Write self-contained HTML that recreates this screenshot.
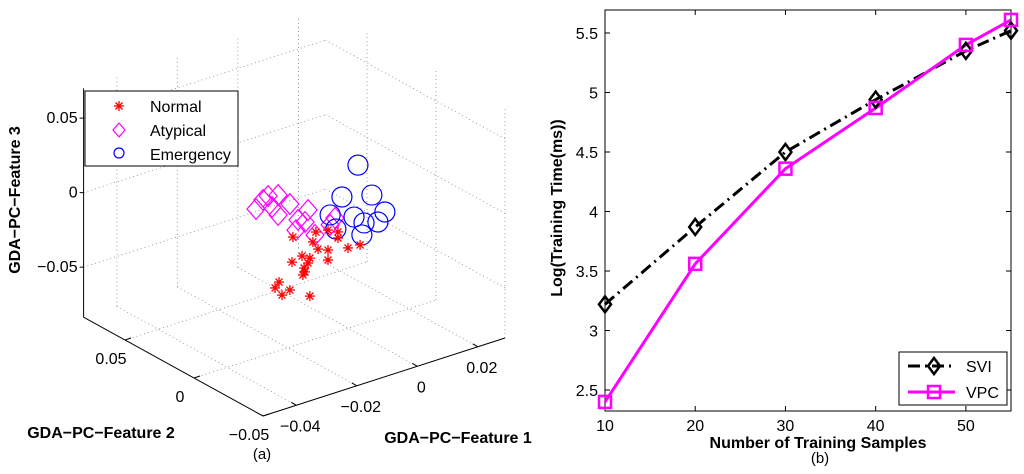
<!DOCTYPE html>
<html><head><meta charset="utf-8">
<style>
html,body{margin:0;padding:0;background:#fff;}
svg{display:block;font-family:"Liberation Sans",Arial,sans-serif;}
</style></head>
<body>
<svg id="fig" width="1024" height="474" viewBox="0 0 1024 474" xmlns="http://www.w3.org/2000/svg">
<g id="left"></g>
<g id="right"></g>
</svg>
<script>
// ---- 3D scatter data ----
const normalF1=[-0.0183,-0.0107,-0.0117,-0.0067,-0.0034,-0.010,-0.0001,0.0039,-0.0067,-0.0067,-0.0186,-0.0153,-0.0127,-0.0146,-0.0133,-0.015,-0.0127,-0.0242,-0.0229,-0.0219,-0.0193,-0.0034,-0.0143];
const normalZ=[-0.0104,-0.012,-0.018,-0.0133,-0.0167,-0.0239,-0.0296,-0.0302,-0.0334,-0.0267,-0.027,-0.0251,-0.0282,-0.0336,-0.0311,-0.038,-0.0537,-0.0407,-0.0376,-0.047,-0.0453,-0.0208,-0.0364];
const atypF1=[-0.0305,-0.0265,-0.0282,-0.0232,-0.0252,-0.0193,-0.0232,-0.0166,-0.0133,-0.0173,-0.0143,-0.011,-0.006,-0.0044];
const atypZ=[0.0164,0.0225,0.021,0.021,0.0143,0.0124,0.0076,0.0,0.0045,-0.0064,-0.0029,-0.0138,-0.0103,-0.0067];
const emerF1=[0.0032,-0.0021,0.0078,-0.006,0.0019,0.0121,-0.0041,0.0052,0.0098,0.0045];
const emerZ=[0.0238,0.0059,0.0007,-0.0036,-0.0102,-0.0135,-0.0143,-0.0163,-0.0187,-0.0239];
const f1Ticks=[-0.04,-0.02,0,0.02];
const f1Labels=["\u22120.04","\u22120.02","0","0.02"];
const f2Ticks=[0.05,0,-0.05];
const f2Labels=["0.05","0","\u22120.05"];
const zTicks=[0.05,0,-0.05];
const zLabels=["0.05","0","\u22120.05"];
// ---- line chart data ----
const samples=[10,20,30,40,50,55];
const sviVals=[3.22,3.87,4.50,4.94,5.35,5.52];
const vpcVals=[2.40,3.56,4.36,4.87,5.40,5.61];
const xTicks=[10,20,30,40,50];
const yTicks=[2.5,3,3.5,4,4.5,5,5.5];
const yTickLabels=["2.5","3","3.5","4","4.5","5","5.5"];

const NS="http://www.w3.org/2000/svg";
function mk(parent,tag,attrs,text){const e=document.createElementNS(NS,tag);for(const k in attrs)e.setAttribute(k,attrs[k]);if(text!==undefined)e.textContent=text;parent.appendChild(e);return e;}

// ---- 3D projection ----
const F1MIN=-0.051,F1MAX=0.029,F2MIN=-0.05,F2MAX=0.08,ZMIN=-0.0836,ZMAX=0.07;
function P(f1,f2,z){return [194+(f1-F1MIN)*3025-f2*1380, 378-(f1-F1MIN)*975-f2*760-(z-ZMIN)*1490];}
const L=document.getElementById('left');
function dline(a,b,name){const l=mk(L,'line',{x1:a[0],y1:a[1],x2:b[0],y2:b[1],stroke:'#888','stroke-width':0.8,'stroke-dasharray':'1,3'});

}
f1Ticks.forEach(t=>dline(P(t,F2MIN,ZMIN),P(t,F2MAX,ZMIN),'floor-grid-f1'));
f2Ticks.forEach(t=>dline(P(F1MIN,t,ZMIN),P(F1MAX,t,ZMIN),'floor-grid-f2'));
f1Ticks.forEach(t=>dline(P(t,F2MAX,ZMIN),P(t,F2MAX,ZMAX),'wall-grid-f1'));
zTicks.forEach(t=>dline(P(F1MIN,F2MAX,t),P(F1MAX,F2MAX,t),'wall-grid-z'));
f2Ticks.forEach(t=>dline(P(F1MAX,t,ZMIN),P(F1MAX,t,ZMAX),'wall-grid-f2'));
zTicks.forEach(t=>dline(P(F1MAX,F2MIN,t),P(F1MAX,F2MAX,t),'wall-grid-z2'));
function sline(a,b,name){const l=mk(L,'line',{x1:a[0],y1:a[1],x2:b[0],y2:b[1],stroke:'#000','stroke-width':1});

}
sline(P(F1MIN,F2MIN,ZMIN),P(F1MAX,F2MIN,ZMIN),'x-axis-feature1');
sline(P(F1MIN,F2MIN,ZMIN),P(F1MIN,F2MAX,ZMIN),'y-axis-feature2');
sline(P(F1MIN,F2MAX,ZMIN),P(F1MIN,F2MAX,ZMAX),'z-axis-feature3');
const tstyle={'font-size':16,fill:'#000'};
f1Ticks.forEach((t,i)=>{const p=P(t,F2MIN,ZMIN);sline(p,[p[0]-5,p[1]-3],'f1-tick');
const tx=mk(L,'text',Object.assign({x:p[0]+4,y:p[1]+26,'text-anchor':'middle'},tstyle),f1Labels[i]);

});
f2Ticks.forEach((t,i)=>{const p=P(F1MIN,t,ZMIN);sline(p,[p[0]+6,p[1]-2],'f2-tick');
const tx=mk(L,'text',Object.assign({x:p[0]-14,y:p[1]+24,'text-anchor':'middle'},tstyle),f2Labels[i]);

});
zTicks.forEach((t,i)=>{const p=P(F1MIN,F2MAX,t);sline(p,[p[0]-4,p[1]],'z-tick');
const tx=mk(L,'text',Object.assign({x:p[0]-6,y:p[1]+5,'text-anchor':'end'},tstyle),zLabels[i]);

});
function star(cx,cy,name){const g=mk(L,'g',{stroke:'#f00','stroke-width':1.3});


mk(g,'line',{x1:cx-5,y1:cy,x2:cx+5,y2:cy});mk(g,'line',{x1:cx,y1:cy-5,x2:cx,y2:cy+5});
mk(g,'line',{x1:cx-3.5,y1:cy-3.5,x2:cx+3.5,y2:cy+3.5});mk(g,'line',{x1:cx-3.5,y1:cy+3.5,x2:cx+3.5,y2:cy-3.5});}
function diamond(cx,cy,s,name){const d=mk(L,'path',{d:`M${cx},${cy-s*1.15}L${cx+s},${cy}L${cx},${cy+s*1.15}L${cx-s},${cy}Z`,fill:'none',stroke:'#f0f','stroke-width':1.2});

}
function circ(cx,cy,r,name){const c=mk(L,'circle',{cx:cx,cy:cy,r:r,fill:'none',stroke:'#00f','stroke-width':1.2});

}
atypF1.forEach((v,i)=>{const p=P(v,0,atypZ[i]);diamond(p[0],p[1],9,'atypical-point');});
emerF1.forEach((v,i)=>{const p=P(v,0,emerZ[i]);circ(p[0],p[1],10,'emergency-point');});
normalF1.forEach((v,i)=>{const p=P(v,0,normalZ[i]);star(p[0],p[1],'normal-point');});
const lg=mk(L,'g',{});


mk(lg,'rect',{x:85,y:91,width:153,height:75,fill:'#fff',stroke:'#000','stroke-width':1});
star(119,106,'legend-normal-marker');diamond(119,130,6,'legend-atypical-marker');circ(119,153,5,'legend-emergency-marker');
[['Normal',112],['Atypical',136],['Emergency',160]].forEach(a=>{const t=mk(lg,'text',{x:150,y:a[1],'font-size':16},a[0]);

});
function title(parent,x,y,txt,name,rot,size,bold){const t=mk(parent,'text',{x:x,y:y,'text-anchor':'middle','font-size':size||16,'font-weight':bold===false?'normal':'bold',transform:rot?`rotate(-90 ${x} ${y})`:''},txt);

}
title(L,20,200,'GDA\u2212PC\u2212Feature 3','z-axis-title',true);
title(L,101,438,'GDA\u2212PC\u2212Feature 2','y-axis-title');
title(L,458,443,'GDA\u2212PC\u2212Feature 1','x-axis-title');
title(L,262,459,'(a)','caption-a',false,15,false);

// ---- right line chart ----
const R=document.getElementById('right');
const X0=605,X1=1011,YT=10,YB=411;
function sx(v){return X0+(v-10)*(X1-X0)/45;}
function sy(v){return 33+(5.5-v)*119;}
const frame=mk(R,'rect',{x:X0,y:YT,width:X1-X0,height:YB-YT,fill:'none',stroke:'#000','stroke-width':1});


xTicks.forEach(t=>{const x=sx(t);mk(R,'line',{x1:x,y1:YB,x2:x,y2:YB-5,stroke:'#000'});mk(R,'line',{x1:x,y1:YT,x2:x,y2:YT+5,stroke:'#000'});
const tx=mk(R,'text',{x:x,y:431,'text-anchor':'middle','font-size':16},String(t));

});
yTicks.forEach((t,i)=>{const y=sy(t);mk(R,'line',{x1:X0,y1:y,x2:X0+5,y2:y,stroke:'#000'});mk(R,'line',{x1:X1,y1:y,x2:X1-5,y2:y,stroke:'#000'});
const tx=mk(R,'text',{x:598,y:y+6,'text-anchor':'end','font-size':16},yTickLabels[i]);

});
const sviLine=mk(R,'polyline',{points:samples.map((s,i)=>sx(s)+','+sy(sviVals[i])).join(' '),fill:'none',stroke:'#000','stroke-width':3,'stroke-dasharray':'12,5,2,5'});


const vpcLine=mk(R,'polyline',{points:samples.map((s,i)=>sx(s)+','+sy(vpcVals[i])).join(' '),fill:'none',stroke:'#f0f','stroke-width':3});


function rdiamond(cx,cy,name){const d=mk(R,'path',{d:`M${cx},${cy-8}L${cx+6},${cy}L${cx},${cy+8}L${cx-6},${cy}Z`,fill:'none',stroke:'#000','stroke-width':2.5});

}
function rsquare(cx,cy,name){const r=mk(R,'rect',{x:cx-6,y:cy-6,width:12,height:12,fill:'none',stroke:'#f0f','stroke-width':2.5});

}
samples.forEach((s,i)=>rdiamond(sx(s),sy(sviVals[i]),'svi-point'));
samples.forEach((s,i)=>rsquare(sx(s),sy(vpcVals[i]),'vpc-point'));
const rl=mk(R,'rect',{x:899,y:352,width:108,height:53,fill:'#fff',stroke:'#000','stroke-width':1});


mk(R,'line',{x1:908,y1:366,x2:955,y2:366,stroke:'#000','stroke-width':3,'stroke-dasharray':'12,5,2,5'});
rdiamond(934,366,'legend-svi-marker');
mk(R,'line',{x1:908,y1:392,x2:955,y2:392,stroke:'#f0f','stroke-width':3});
rsquare(934,392,'legend-vpc-marker');
[['SVI',372],['VPC',398]].forEach(a=>{const t=mk(R,'text',{x:966,y:a[1],'font-size':16},a[0]);

});
title(R,562,208,'Log(Training Time(ms))','y-axis-title-b',true);
title(R,818,448,'Number of Training Samples','x-axis-title-b');
title(R,820,463,'(b)','caption-b',false,15,false);
</script>
</body></html>
